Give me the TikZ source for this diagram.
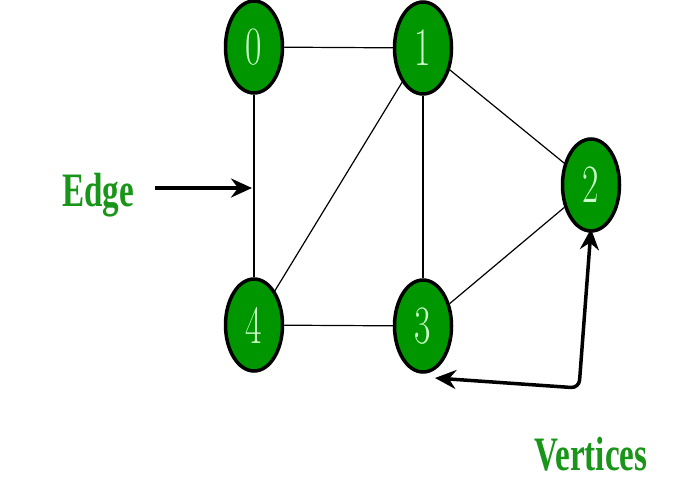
\documentclass[tikz,border=0pt]{standalone}
\usepackage{fontspec}
\newfontfamily\labelfont{Liberation Serif}
\usetikzlibrary{shapes.geometric,arrows.meta}
\definecolor{vgreen}{RGB}{0,150,0}
\definecolor{vdigit}{RGB}{205,255,205}
\definecolor{lgreen}{RGB}{25,150,25}
\newcommand{\squeeze}[2]{\scalebox{#1}[1]{#2}}
\begin{document}
\begin{tikzpicture}[x=1pt,y=-1pt,
    vertex/.style={ellipse,draw=black,line width=3.5pt,fill=vgreen,text=vdigit,
      minimum width=57pt,minimum height=92pt,inner sep=0pt,
      font=\fontsize{54}{54}\selectfont},
    edgeline/.style={line width=1.2pt},
    tip/.tip={Stealth[length=21pt,width=19pt,inset=7pt]},
    pointer/.style={line width=3.5pt,-tip},
    tag/.style={text=lgreen,anchor=base,font=\labelfont\bfseries\fontsize{48}{48}\selectfont}]
      \useasboundingbox (0,0) rectangle (690,490);

      \node[vertex] (n0) at (254,47) {\squeeze{0.66}{0}};
      \node[vertex] (n1) at (423,48) {\squeeze{0.66}{1}};
      \node[vertex] (n2) at (591,185) {\squeeze{0.66}{2}};
      \node[vertex] (n3) at (423,326) {\squeeze{0.66}{3}};
      \node[vertex] (n4) at (254,325) {\squeeze{0.66}{4}};

      \draw[edgeline] (n0) -- (n1);
      \draw[edgeline] (n0) -- (n4);
      \draw[edgeline] (n1) -- (n3);
      \draw[edgeline] (n1) -- (n4);
      \draw[edgeline] (n1) -- (n2);
      \draw[edgeline] (n2) -- (n3);
      \draw[edgeline] (n4) -- (n3);

      % labels
      \node[tag] (edge) at (98,206) {\squeeze{0.69}{Edge}};
      \node[tag] (vertices) at (591,470) {\squeeze{0.69}{Vertices}};

      \coordinate (e04) at (252,188);
      \draw[pointer] (155,188) -- (e04);

      \coordinate (vcorner) at (579,388);
      \coordinate (vtip) at (435,378);
      \draw[pointer,tip-tip,rounded corners=8pt]
        ([yshift=4pt]n2.south) -- (vcorner) -- (vtip);
    \end{tikzpicture}
\end{document}
